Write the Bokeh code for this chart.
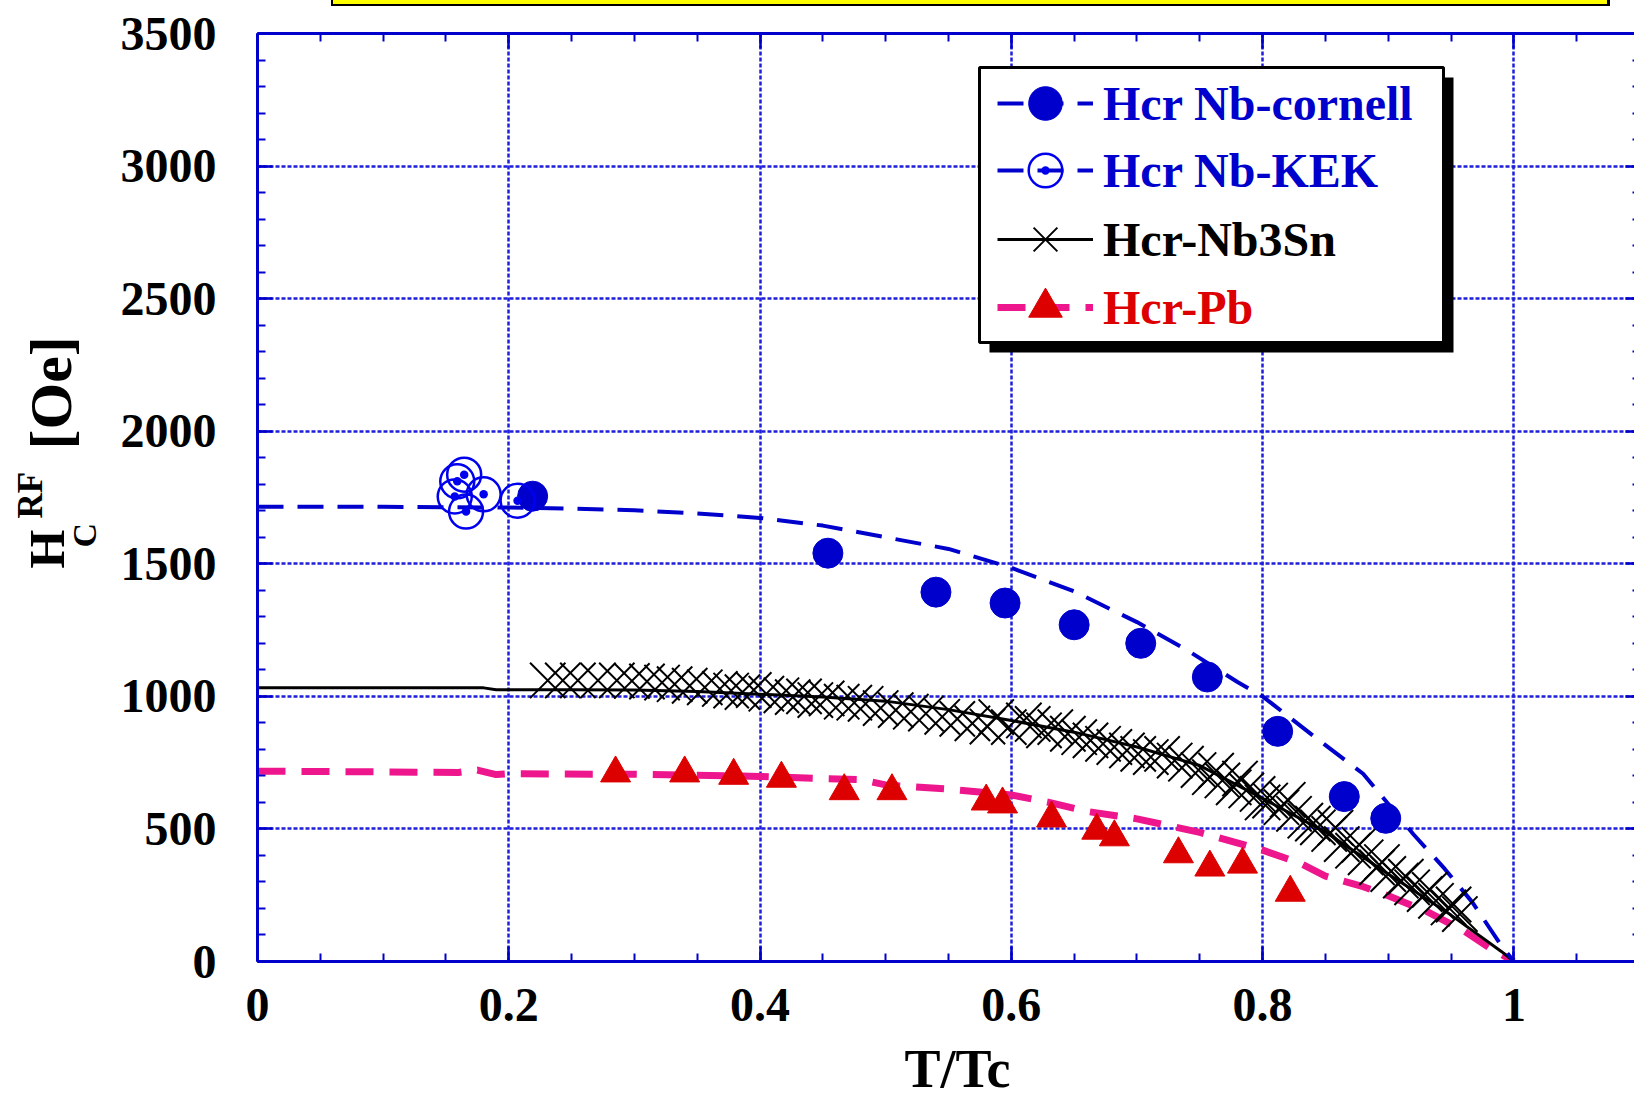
import math
from bokeh.plotting import figure
from bokeh.layouts import row, column
from bokeh.models import (Range1d, LinearAxis, FixedTicker, CustomJSTickFormatter,
                          Legend, LegendItem, BoxAnnotation, Label, Div, Spacer)
from bokeh.embed import file_html
from bokeh.resources import INLINE

# ---------------- data ----------------
cornell_x = [0.219, 0.454, 0.540, 0.595, 0.650, 0.703, 0.756, 0.812, 0.865, 0.898]
cornell_y = [1755, 1540, 1393, 1352, 1270, 1200, 1073, 868, 622, 540]

kek_x = [0.157, 0.159, 0.1645, 0.166, 0.180, 0.207]
kek_y = [1754, 1811, 1836, 1697, 1762, 1738]

nb_fit_x = [0, 0.1, 0.2, 0.25, 0.3, 0.35, 0.4, 0.45, 0.5, 0.55, 0.6, 0.65, 0.7,
            0.74, 0.78, 0.8, 0.845, 0.88, 0.92, 0.945, 0.967, 0.99, 1.0]
nb_fit_y = [1715, 1715, 1712, 1708, 1702, 1690, 1673, 1644, 1600, 1556, 1485, 1396, 1280,
            1174, 1054, 1000, 834, 708, 480, 349, 223, 60, 0]

nb3sn_line_x = [0, 0.1, 0.18, 0.19, 0.25, 0.3, 0.35, 0.4, 0.45, 0.5, 0.55, 0.6, 0.65,
                0.7, 0.75, 0.8, 0.85, 0.9, 0.95, 0.99, 1.0]
nb3sn_line_y = [1032, 1032, 1032, 1025, 1025, 1024, 1018, 1008, 998, 982, 950, 909, 865,
                809, 739, 615, 488, 330, 175, 38, 0]

nb3sn_x = [0.231, 0.243, 0.255, 0.271, 0.286, 0.298, 0.310, 0.322, 0.332, 0.344, 0.356,
           0.368, 0.377, 0.386, 0.395, 0.405, 0.417, 0.426, 0.435, 0.444, 0.453, 0.465,
           0.475, 0.484, 0.496, 0.508, 0.520, 0.532, 0.545, 0.557, 0.569, 0.581, 0.588,
           0.598, 0.610, 0.617, 0.626, 0.635, 0.645, 0.654, 0.663, 0.673, 0.682, 0.692,
           0.701, 0.711, 0.720, 0.730, 0.739, 0.749, 0.758, 0.763, 0.768, 0.777, 0.782,
           0.787, 0.796, 0.800, 0.806, 0.815, 0.820, 0.825, 0.834, 0.840, 0.844, 0.853,
           0.858, 0.863, 0.872, 0.877, 0.882, 0.891, 0.895, 0.900, 0.910, 0.914, 0.919,
           0.929, 0.933, 0.938, 0.948, 0.952, 0.957]
nb3sn_y = [1060, 1060, 1060, 1060, 1060, 1058, 1056, 1052, 1046, 1040, 1034,
           1028, 1022, 1016, 1024, 1010, 1004, 997, 1000, 986, 992, 980,
           976, 972, 956, 948, 942, 935, 923, 915, 898, 886, 922,
           884, 909, 896, 872, 884, 859, 846, 834, 821, 809, 796,
           783, 771, 783, 758, 746, 722, 695, 720, 683, 657, 690,
           645, 632, 600, 607, 582, 610, 557, 531, 520, 506, 481,
           505, 443, 418, 440, 393, 355, 375, 330, 305, 320, 280,
           254, 270, 229, 204, 215, 179]

pb_line_x = [0, 0.1, 0.16, 0.175, 0.19, 0.2, 0.3, 0.4, 0.45, 0.48, 0.5, 0.55, 0.6,
             0.63, 0.66, 0.7, 0.75, 0.8, 0.83, 0.85, 0.88, 0.9, 0.93, 0.96, 0.98, 1.0]
pb_line_y = [718, 715, 713, 722, 705, 708, 706, 698, 690, 686, 666, 650, 628,
             600, 566, 538, 487, 420, 370, 322, 282, 248, 190, 116, 53, 0]

pb_x = [0.285, 0.340, 0.379, 0.417, 0.467, 0.505, 0.580, 0.593, 0.632, 0.668, 0.682,
        0.733, 0.758, 0.784, 0.822]
pb_y = [710, 710, 701, 690, 643, 643, 604, 593, 540, 494, 469, 405, 355, 366, 260]

x_major = [0, 0.2, 0.4, 0.6, 0.8, 1.0]
y_major = [0, 500, 1000, 1500, 2000, 2500, 3000, 3500]

legend_labels = ["Hcr Nb-cornell", "Hcr Nb-KEK", "Hcr-Nb3Sn", "Hcr-Pb"]
x_title = "T/Tc"

# ---------------- styling ----------------
BLUE = "#0000CC"
KBLUE = "#0000EE"
PINK = "#EE168C"
RED = "#DD0000"
GRID = "#1E1EDC"
FONT = "Liberation Serif"

x_minor = [round(i * 0.05, 2) for i in range(0, 23)]
y_minor = list(range(0, 3501, 100))

TOP_H = 6         # strip above the plot (cropped title box)
MAIN_H = 1098 - TOP_H
LAB_W = 110       # strip holding the y-axis title
MAIN_W = 1634 - LAB_W
BORDER_TOP = 33 - TOP_H
BORDER_BOTTOM = 137

# ---------------- main plot ----------------
p = figure(width=MAIN_W, height=MAIN_H, output_backend="svg", toolbar_location=None,
           title=None,
           x_range=Range1d(0, 1.096), y_range=Range1d(0, 3500),
           min_border_left=257 - LAB_W, min_border_right=0, min_border_top=BORDER_TOP,
           min_border_bottom=BORDER_BOTTOM)
p.outline_line_color = None
p.background_fill_color = "white"
p.border_fill_color = None

bottom_ax = p.below[0]
left_ax = p.left[0]

xt = FixedTicker(ticks=x_major, minor_ticks=x_minor)
yt = FixedTicker(ticks=y_major, minor_ticks=y_minor)
bottom_ax.ticker = xt
left_ax.ticker = yt
p.xgrid.ticker = xt
p.ygrid.ticker = yt
bottom_ax.formatter = CustomJSTickFormatter(code="return tick.toString()")

top_ax = LinearAxis(ticker=xt, formatter=CustomJSTickFormatter(code="return ''"))
right_ax = LinearAxis(ticker=yt, formatter=CustomJSTickFormatter(code="return ''"))
p.add_layout(top_ax, "above")
p.add_layout(right_ax, "right")


def style_axis(ax, maj_in, min_in, line=True, standoff=0, size="48px"):
    ax.axis_line_color = BLUE if line else None
    ax.axis_line_width = 3
    ax.major_tick_line_color = BLUE
    ax.major_tick_line_width = 2.5
    ax.minor_tick_line_color = BLUE
    ax.minor_tick_line_width = 2
    ax.major_tick_in = maj_in
    ax.major_tick_out = 0
    ax.minor_tick_in = min_in
    ax.minor_tick_out = 0
    ax.major_label_text_font = FONT
    ax.major_label_text_font_style = "bold"
    ax.major_label_text_font_size = size
    ax.major_label_text_color = "black"
    ax.major_label_standoff = standoff


style_axis(bottom_ax, 15, 8, standoff=27)
style_axis(left_ax, 15, 8, standoff=41)
style_axis(top_ax, 15, 8, standoff=0, size="1px")
style_axis(right_ax, 9, 2, line=False, standoff=0, size="1px")

for g in (p.xgrid[0], p.ygrid[0]):
    g.grid_line_color = GRID
    g.grid_line_width = 2.5
    g.grid_line_dash = "4 2"

pb_line = p.line(pb_line_x, pb_line_y, line_color=PINK, line_width=7, line_dash="28 16")
sn_line = p.line(nb3sn_line_x, nb3sn_line_y, line_color="black", line_width=3)
nb_line = p.line(nb_fit_x, nb_fit_y, line_color=BLUE, line_width=4, line_dash="26 14")
sn_pts = p.scatter(nb3sn_x, nb3sn_y, marker="x", size=50, line_color="black", line_width=2)
pb_pts = p.scatter(pb_x, pb_y, marker="triangle", size=30, fill_color=RED,
                   line_color=RED, line_width=1)
cor_pts = p.scatter(cornell_x, cornell_y, marker="circle", size=30, fill_color=BLUE,
                    line_color=BLUE, line_width=1)
kek_pts = p.scatter(kek_x, kek_y, marker="circle_dot", size=34, fill_color=None,
                    line_color=KBLUE, line_width=2.5)

# legend: shadowed box + one legend per entry (each with its own text colour)
shadow = BoxAnnotation(left=732, right=1196, top=884, bottom=609,
                       left_units="screen", right_units="screen",
                       top_units="screen", bottom_units="screen",
                       fill_color="black", fill_alpha=1.0, line_color=None)
box = BoxAnnotation(left=722, right=1186, top=894, bottom=619,
                    left_units="screen", right_units="screen",
                    top_units="screen", bottom_units="screen",
                    fill_color="white", fill_alpha=1.0, line_color="black",
                    line_alpha=1.0, line_width=3)
p.add_layout(shadow)
p.add_layout(box)

entries = [
    (legend_labels[0], [nb_line, cor_pts], BLUE, 816),
    (legend_labels[1], [nb_line, kek_pts], BLUE, 749),
    (legend_labels[2], [sn_line, sn_pts], "black", 680),
    (legend_labels[3], [pb_line, pb_pts], RED, 612),
]
for lab, rends, col, vy in entries:
    leg = Legend(items=[LegendItem(label=lab, renderers=rends)], location=(740, vy),
                 border_line_color=None, background_fill_alpha=0.0,
                 padding=0, margin=0, spacing=0,
                 glyph_width=96, glyph_height=84, label_height=84, label_standoff=10,
                 label_text_font=FONT, label_text_font_style="bold",
                 label_text_font_size="48px", label_text_color=col,
                 label_text_baseline="middle")
    p.add_layout(leg)

# x-axis title in the bottom side panel (data units)
p.add_layout(Label(text=x_title, x=0.5572, y=-406, text_font=FONT,
                   text_font_style="bold", text_font_size="54px", text_color="black",
                   text_align="center", text_baseline="alphabetic"), "below")

# ---------------- y-axis title strip (same vertical frame as the plot) ----------------
fy = figure(width=LAB_W, height=MAIN_H, output_backend="svg", toolbar_location=None,
            title=None, x_range=Range1d(0, LAB_W), y_range=Range1d(0, 3500),
            x_axis_type=None, y_axis_type=None,
            min_border_left=0, min_border_right=0, min_border_top=BORDER_TOP,
            min_border_bottom=BORDER_BOTTOM)
fy.outline_line_color = None
fy.background_fill_color = None
fy.border_fill_color = None


def ylab(text, x, y, size):
    fy.add_layout(Label(text=text, x=x, y=y, angle=math.pi / 2, text_font=FONT,
                        text_font_style="bold", text_font_size=size, text_color="black",
                        text_align="left", text_baseline="alphabetic"))


ylab("H", 46, 1482, "50px")
ylab("C", 84, 1561, "34px")
ylab("RF", 30, 1671, "35px")
ylab("[Oe]", 50, 1931, "60px")

# ---------------- cropped yellow title box at the very top ----------------
strip = row(Spacer(width=331, height=TOP_H, margin=0),
            Div(text="", width=1279, height=TOP_H, margin=0,
                styles={"background-color": "#FFFF00",
                        "border-left": "2px solid black",
                        "border-right": "3px solid black",
                        "border-bottom": "2px solid black",
                        "box-sizing": "border-box",
                        "overflow": "hidden",
                        "padding": "0px",
                        "line-height": "0px"}),
            Spacer(width=1634 - 331 - 1279, height=TOP_H, margin=0))

layout = column(strip, row(fy, p))
open("out.html", "w").write(file_html(layout, INLINE))
